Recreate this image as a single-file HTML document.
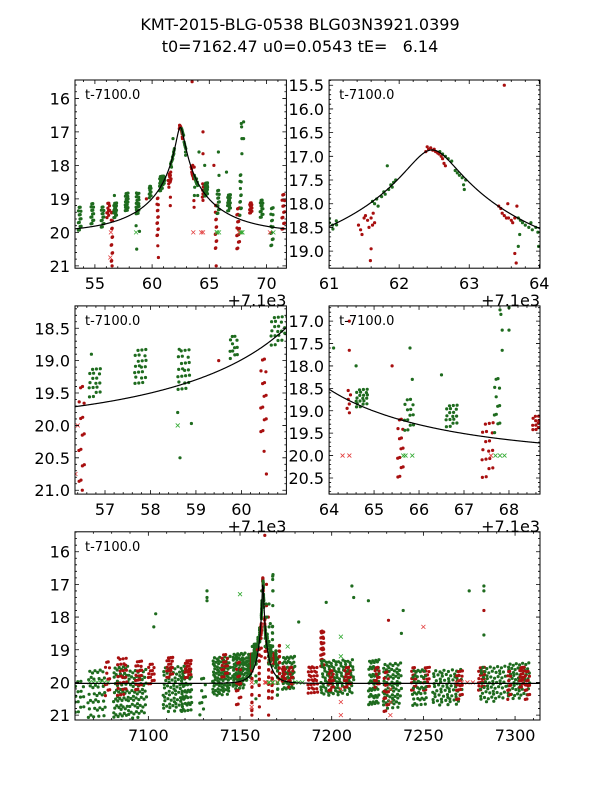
<!DOCTYPE html>
<html><head><meta charset="utf-8">
<style>
html,body{margin:0;padding:0;background:#fff;}
svg{display:block;font-family:"DejaVu Sans","Liberation Sans",sans-serif;}
</style></head>
<body>
<svg id="fig" width="600" height="800" viewBox="0 0 600 800" xmlns="http://www.w3.org/2000/svg">
<rect x="0" y="0" width="600" height="800" fill="#fff"/>
<text x="300" y="30" font-size="16" text-anchor="middle">KMT-2015-BLG-0538 BLG03N3921.0399</text>
<text x="300" y="52" font-size="16" text-anchor="middle" xml:space="preserve">t0=7162.47 u0=0.0543 tE=   6.14</text>
</svg>
<script>
// ---- model parameters ----
const modelT0 = 62.47, modelU0 = 0.0543, modelTE = 6.14, modelM0 = 20.03;
// ---- strips of photometry: time (t-7100), spread (days), top mag, bottom mag, count, colour ----
const stripT   = [53.7,54.8,55.7,56.2,56.5,56.8,57.8,58.75,59.85,60.5,60.8,61.05,64.45,64.75,65.6,65.8,66.75,67.55,67.75,68.65,69.6,70.5,71.5,
  -37,-28,-22,-15,-6,-14,-5,2,14,21,12,22,30,40,49.5,42,49.5,76.5,74,78,90,95,103,109,100,123,133,130,125,145,152,148,163,170,182,188,202,204,207,197];
const stripW   = [0.3,0.3,0.3,0.3,0.15,0.3,0.3,0.3,0.2,0.15,0.3,0.2,0.1,0.3,0.15,0.25,0.3,0.3,0.15,0.25,0.3,0.25,0.3,
  6,10,3,8,10,6,4,4,12,6,4,4,4,10,7,4,3,7,2,3,6,2,18,4,3,6,10,3,3,3,4,8,16,4,4,14,12,3,3,2];
const stripTop = [19.2,19.1,19.2,19.1,19.3,19.1,18.8,18.8,18.6,18.9,18.3,18.3,18.5,18.5,19.1,18.7,18.85,19.2,18.2,19.1,19.0,19.2,18.8,
  19.9,19.6,19.3,19.5,19.6,19.2,19.3,19.4,19.5,19.6,19.2,19.3,19.8,19.2,19.1,19.1,19.3,19.2,19.5,19.5,19.5,18.4,19.3,19.5,19.6,19.3,19.4,19.6,19.5,19.5,19.5,19.6,19.6,19.6,19.5,19.5,19.4,19.5,19.6,19.6];
const stripBot = [20.0,19.8,19.9,19.6,21.0,19.6,19.4,19.5,19.0,20.2,18.8,18.6,19.2,18.95,20.6,19.5,19.4,20.6,19.6,19.45,19.6,20.5,20.0,
  21.0,21.2,20.5,21.2,21.1,20.5,20.3,20.1,20.9,21.0,19.9,19.9,21.1,20.4,20.2,19.9,20.8,20.3,20.0,20.2,20.4,19.6,20.4,20.2,20.3,20.8,20.8,21.0,20.2,20.3,20.3,20.8,20.7,20.6,20.3,20.6,20.5,20.2,20.6,20.6];
const stripN   = [14,14,14,10,14,18,22,24,12,14,18,8,6,20,14,14,18,18,12,14,14,16,14,
  15,40,12,60,60,25,20,15,70,40,18,18,10,80,70,15,15,50,12,12,30,30,110,15,15,50,70,15,12,15,18,40,70,18,20,60,60,18,15,12];
const stripC   = ["g","g","g","r","r","g","g","g","g","r","g","g","r","g","r","g","g","r","g","r","g","g","r",
  "g","g","r","g","g","r","r","r","g","g","r","r","g","g","g","r","r","g","r","r","r","r","g","r","r","g","g","r","r","r","r","g","g","r","r","g","g","r","r","r"];
// ---- individual points (peak coverage and outliers) ----
const ptT = [61.42,61.45,61.47,61.5,61.52,61.55,61.57,61.6,61.62,61.63,61.6,61.59,61.65,
  61.62,61.65,61.68,61.7,61.75,61.78,61.8,61.83,61.85,61.88,61.9,61.92,61.95,
  62.38,62.4,62.42,62.45,62.48,62.5,62.52,62.55,62.57,62.6,62.62,62.64,62.66,
  62.58,62.62,62.66,62.7,62.75,62.8,62.83,62.86,62.9,62.92,62.93,62.95,
  63.42,63.45,63.47,63.5,63.53,63.56,63.6,63.62,63.65,63.55,63.68,63.65,63.67,63.5,
  63.7,63.73,63.76,63.8,63.85,63.88,63.9,63.95,63.98,63.72,63.7,63.99,
  67.8,67.82,67.85,67.85,64.45,64.45,65.4,65.8,65.85,64.6,56.7,58.65,58.9,58.6,60.5,60.55,59.5,65.6,56.5,64.1,66.5,
  32,32,32,4,3,68,68,97,111,120,131,139,183,183,183,183,175,138,112,82];
const ptM = [18.45,18.55,18.65,18.3,18.25,18.35,18.5,18.3,18.45,18.2,18.95,19.2,18.4,
  17.95,18.0,17.9,18.05,17.85,17.75,17.8,17.2,17.7,17.6,17.65,17.55,17.5,
  16.9,16.8,16.85,16.82,16.87,16.85,16.9,16.93,16.95,17.0,17.05,17.15,17.2,
  16.9,16.95,17.0,17.05,17.1,17.3,17.35,17.4,17.45,17.6,17.7,17.5,
  18.05,18.1,18.2,18.25,18.3,18.3,18.35,18.4,18.3,18.0,18.05,19.05,19.25,15.5,
  18.3,18.35,18.4,18.45,18.5,18.4,18.55,18.5,18.6,18.65,18.9,18.9,
  16.75,16.85,17.2,17.65,17.0,17.65,18.0,17.6,18.3,18.0,18.9,20.5,19.97,19.8,20.4,20.75,19.0,21.0,21.0,17.6,18.2,
  17.2,17.5,17.4,17.9,18.3,16.7,17.2,17.55,17.05,17.5,18.1,17.8,17.2,17.05,17.8,18.55,17.2,18.5,17.4,18.15];
const ptC = ["r","r","r","r","r","r","r","r","r","r","r","r","r",
  "g","g","g","g","g","g","g","g","g","g","g","g","g",
  "r","r","r","r","r","r","r","r","r","r","r","r","r",
  "g","g","g","g","g","g","g","g","g","g","g","g",
  "r","r","r","r","r","r","r","r","r","r","r","r","r","r",
  "g","g","g","g","g","g","g","g","g","g","g","g",
  "g","g","g","g","r","r","r","g","g","g","g","g","g","g","r","r","r","r","r","g","g",
  "g","g","g","g","g","g","g","g","g","g","r","g","g","g","r","g","g","g","g","g"];
// ---- x-markers (flagged points) ----
const xT = [56.4,63.6,64.3,70.3,65.7,67.7,70.6,64.45,65.65,65.85,67.6,67.8,67.9,58.6,56.35,
  -32,-30,-28,-26,-24,-22,80,82,84,168,171,174,177,105,105,105,105,105,132,132,132,50,76,150];
const xM = [20.0,20.0,20.0,20.0,20.0,20.0,20.0,20.0,20.0,20.0,20.0,20.0,20.0,20.0,20.75,
  20.0,20.0,20.0,20.0,20.0,20.0,20.0,20.0,20.0,20.0,20.0,20.0,20.0,18.6,19.2,20.2,20.6,21.0,20.2,20.6,21.0,17.3,18.9,18.3];
const xC = ["r","r","r","r","g","g","g","r","g","g","r","g","g","g","r",
  "g","g","g","g","g","g","g","g","g","r","r","r","r","g","g","r","r","r","r","r","r","g","g","r"];

const COL = {g:"#1e6b1e", r:"#a80f0f"};
const XCOL = {g:"#33aa33", r:"#e23b3b"};
const NS = "http://www.w3.org/2000/svg";
const fig = document.getElementById("fig");

const panels = [
  {name:"zoom-panel-wide", x0:75, x1:286.4, y0:80, y1:268.2, t:[53.26,71.74], m:[15.45,21.07], xmaj:5, ymaj:1, ydec:0, off:true, add:0},
  {name:"zoom-panel-peak", x0:329.1, x1:540, y0:80, y1:268.2, t:[61,64.01], m:[15.39,19.36], xmaj:1, ymaj:0.5, ydec:1, off:true, add:0},
  {name:"zoom-panel-rise", x0:75, x1:286.4, y0:305.9, y1:494.1, t:[56.34,60.99], m:[18.155,21.06], xmaj:1, ymaj:0.5, ydec:1, off:true, add:0},
  {name:"zoom-panel-fall", x0:329.1, x1:540, y0:305.9, y1:494.1, t:[64,68.69], m:[16.66,20.86], xmaj:1, ymaj:0.5, ydec:1, off:true, add:0},
  {name:"full-season-panel", x0:75, x1:540, y0:531.8, y1:720, t:[-40,213.6], m:[15.39,21.15], xmaj:50, ymaj:1, ydec:0, off:false, add:7100}
];

function mk(tag, attrs, parent){
  const e = document.createElementNS(NS, tag);
  for (const k in attrs) e.setAttribute(k, attrs[k]);
  (parent||fig).appendChild(e);
  return e;
}
function modelMag(t){
  const tau = (t-modelT0)/modelTE;
  const u = Math.sqrt(modelU0*modelU0 + tau*tau);
  const A = (u*u+2)/(u*Math.sqrt(u*u+4));
  return modelM0 - 2.5*Math.log10(A);
}

panels.forEach((p, pi) => {
  const X = t => p.x0 + (t - p.t[0])/(p.t[1]-p.t[0])*(p.x1-p.x0);
  const Y = m => p.y0 + (m - p.m[0])/(p.m[1]-p.m[0])*(p.y1-p.y0);
  const g = mk("g", {});
  
  
  const clip = mk("clipPath", {id:"clip"+pi}, g);
  mk("rect", {x:p.x0, y:p.y0, width:p.x1-p.x0, height:p.y1-p.y0}, clip);
  const plot = mk("g", {"clip-path":"url(#clip"+pi+")"}, g);
  
  

  for (let i=0;i<stripT.length;i++){
    for (let k=0;k<stripN[i];k++){
      const ft = ((0.5 + k*0.7548777) % 1) - 0.5;
      const fm = (0.5 + k*0.5698403) % 1;
      const t = stripT[i] + stripW[i]*ft;
      const m = stripTop[i] + (stripBot[i]-stripTop[i])*fm;
      const c = mk("circle", {cx:X(t).toFixed(1), cy:Y(m).toFixed(1), r:1.6, fill:COL[stripC[i]]}, plot);
      
      
    }
  }
  for (let i=0;i<ptT.length;i++){
    const c = mk("circle", {cx:X(ptT[i]).toFixed(1), cy:Y(ptM[i]).toFixed(1), r:1.6, fill:COL[ptC[i]]}, plot);
    
    
  }
  for (let i=0;i<xT.length;i++){
    const cx = X(xT[i]), cy = Y(xM[i]), s = 2;
    const xp = mk("path", {d:`M${cx-s},${cy-s}L${cx+s},${cy+s}M${cx-s},${cy+s}L${cx+s},${cy-s}`, stroke:XCOL[xC[i]], "stroke-width":0.8, fill:"none"}, plot);
    
    
  }
  let d = "";
  const N = 600;
  for (let k=0;k<=N;k++){
    const t = p.t[0] + (p.t[1]-p.t[0])*k/N;
    d += (k?"L":"M") + X(t).toFixed(2) + "," + Y(modelMag(t)).toFixed(2);
  }
  const curve = mk("path", {d:d, stroke:"#000", "stroke-width":1.2, fill:"none"}, plot);
  
  

  const fr = mk("rect", {x:p.x0, y:p.y0, width:p.x1-p.x0, height:p.y1-p.y0, fill:"none", stroke:"#000", "stroke-width":1}, g);
  
  

  let tk = "";
  const xminor = p.xmaj/5, yminor = p.ymaj/5;
  const xs = Math.ceil(p.t[0]/xminor - 1e-6);
  for (let j=xs; j*xminor<=p.t[1]+1e-9; j++){
    const v = j*xminor, x = X(v);
    const major = Math.abs(v/p.xmaj - Math.round(v/p.xmaj)) < 1e-6;
    const L = major?4:2;
    tk += `M${x},${p.y1}v${-L}M${x},${p.y0}v${L}`;
    if (major){
      const lab = mk("text", {x:x, y:p.y1+21, "font-size":16, "text-anchor":"middle"}, g);
      lab.textContent = String(Math.round(v + p.add));
      
      
    }
  }
  const ys = Math.ceil(p.m[0]/yminor - 1e-6);
  for (let j=ys; j*yminor<=p.m[1]+1e-9; j++){
    const v = j*yminor, y = Y(v);
    const major = Math.abs(v/p.ymaj - Math.round(v/p.ymaj)) < 1e-6;
    const L = major?4:2;
    tk += `M${p.x0},${y}h${L}M${p.x1},${y}h${-L}`;
    if (major){
      const lab = mk("text", {x:p.x0-5, y:y+6, "font-size":16, "text-anchor":"end"}, g);
      lab.textContent = v.toFixed(p.ydec);
      
      
    }
  }
  const ticks = mk("path", {d:tk, stroke:"#000", "stroke-width":0.8, fill:"none"}, g);
  
  

  const tl = mk("text", {x:p.x0+10, y:p.y0+19, "font-size":13}, g);
  tl.textContent = "t-7100.0";
  
  

  if (p.off){
    const ot = mk("text", {x:p.x1, y:p.y1+38, "font-size":16, "text-anchor":"end"}, g);
    ot.textContent = "+7.1e3";
    
    
  }
});
</script>
</body></html>
